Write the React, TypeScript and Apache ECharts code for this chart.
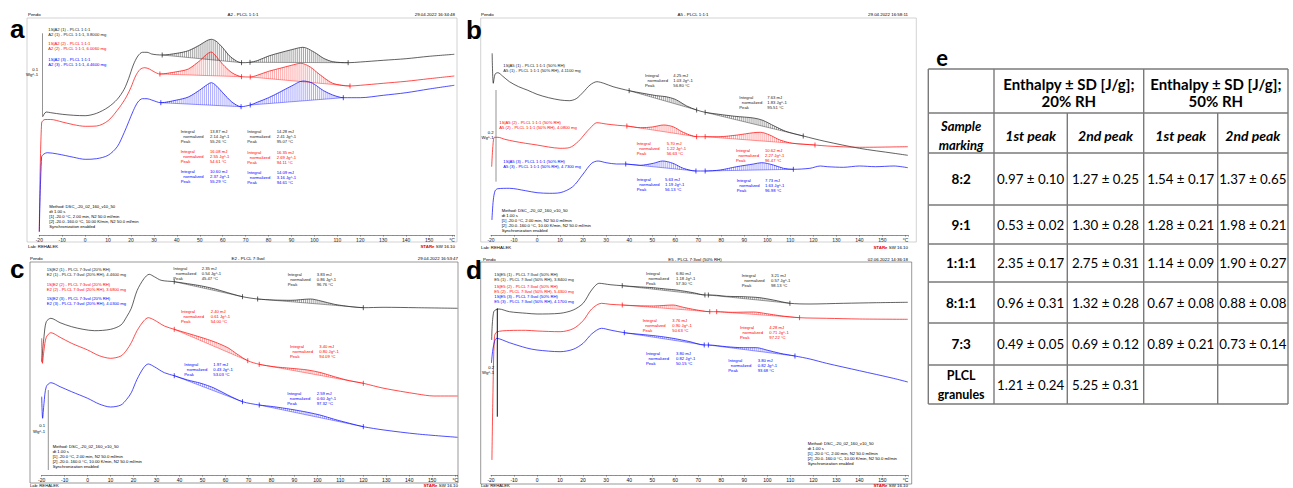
import React, { useEffect, useRef } from "react";
import * as echarts from "echarts";

type Pt = [number, number];

// ===== Panel a: A2 - PLCL 1:1:1  (x: temperature °C, y: heat flow, arbitrary units) =====
const aBlack: Pt[] = [[-18.5,118.3],[-17,123],[-15,122.3],[-10,120.7],[-5,119.7],[0,119.3],[5,121.7],[10,127.7],[14,135.7],[17,145.7],[19,156.7],[21,170],[23,179],[25,182.7],[27,182.7],[29,181],[31,180.3],[33.6,180],[40,181.7],[45,184.3],[50,190],[53,194.3],[55,195.7],[57,194],[60,187.3],[63,179],[66,174],[68.2,172.3],[71.9,172.7],[75,174.3],[80,179],[85,182.3],[90,185.3],[95,187.7],[100,182.7],[104,176.7],[108,173.3],[114.7,172.3],[120,173],[130,174.7],[140,176.3],[150,178.7],[161,180.7]];
const aRed: Pt[] = [[-20,3.3],[-19,112],[-17.5,115.5],[-15,115.5],[-10,113],[-5,110.3],[0,108.7],[5,109],[10,114.3],[15,127.7],[18,138.3],[20,147.7],[22,159],[24,165.7],[26,167.3],[28,166],[30,163.3],[32.6,161],[40,163.3],[45,166],[50,174.3],[53,180.7],[55,183],[57,179],[60,170.7],[64,162.3],[68.2,158.3],[72,158],[75,159.7],[80,163.7],[85,166.7],[90,169.7],[94,171.7],[98,168.3],[102,161],[108,151.7],[115.5,149],[120,149.7],[130,151.7],[140,153.7],[150,156.3],[161,159]];
const aBlue: Pt[] = [[-20,3.3],[-19,78],[-18,81],[-16.5,82.3],[-12,81],[-5,77.7],[0,75.7],[5,76.3],[10,79.7],[14,88.3],[17,102.3],[19,113.3],[21,124.3],[23,133],[25,136.3],[27,136.3],[29,135],[33,132.3],[40,135],[45,138],[50,145],[53,150],[55,152.3],[57,149.7],[60,142.3],[64,133],[68,128.3],[72,130],[75,132.7],[80,137.3],[85,143],[90,149],[95,154],[99,152],[104,144.3],[108,140],[112.6,137.3],[120,137.3],[130,139.7],[140,142.3],[150,146],[161,149.7]];
const aBlackPeaks: Pt[] = [[33.6,68.2],[71.9,114.7]];
const aRedPeaks: Pt[] = [[32.6,68.2],[72,115.5]];
const aBluePeaks: Pt[] = [[33,68],[72,112.6]];

// ===== Panel b: A5 - PLCL 1:1:1 (50% RH) =====
const bBlack: Pt[] = [[-19.5,181.7],[-19,151.7],[-18.2,161],[-17,162.3],[-15,159],[-12,153.3],[-8,148.3],[-4,144.7],[0,140.7],[5,137.3],[10,135],[14,134.3],[17,136.3],[20,142.7],[23,150],[26,153.3],[29,151.7],[33,148.3],[40,144.3],[46,141.7],[52,139.3],[56,138.3],[60,135.7],[65,129],[69.3,125],[73,122.7],[79,120.7],[86,118.7],[94,117],[98,114.7],[103,109],[108,103.7],[115.6,99],[125,93.7],[140,86.7],[155,81.7],[161,79.7]];
const bRed: Pt[] = [[-19.7,68.3],[-19.2,88.3],[-18.5,97.7],[-17,97.7],[-14,95.7],[-10,93.7],[-5,91.7],[0,90],[5,88],[10,86.7],[14,87.3],[18,93.7],[21,101.7],[23,106.7],[26,112.3],[30,111],[35,109.7],[39,109],[45,107.3],[50,108],[55,110],[59,108.3],[63.5,102.7],[69.3,98.3],[73,98.3],[79,98.3],[87,100],[94,102.3],[97,102.7],[101,100],[105.5,95],[111,91.7],[120.7,90],[126,89],[140,87.7],[161,88.3]];
const bBlue: Pt[] = [[-19.6,15],[-19,35],[-18.2,44.3],[-17,46.3],[-12,46.7],[-5,44.3],[0,42.3],[5.5,41.7],[10,42.3],[15.5,48.3],[20,61],[23.7,71.7],[26.5,74],[30,72.3],[34.5,71],[38.5,71],[44.7,69.7],[50.5,71.7],[54.5,74],[59,71.7],[63.5,66.7],[69,64],[73,64],[79.5,65],[86.7,68.3],[94,71],[97.5,72.3],[102.6,70],[107,66.7],[111.3,65.7],[118.5,66.7],[123,69],[126,68.3],[133,67.7],[140,69],[147,68.3],[155,69],[161,67.3]];
const bBlackPeaks: Pt[] = [[40,69.3],[73,115.6]];
const bRedPeaks: Pt[] = [[39,69.3],[73,120.7]];
const bBluePeaks: Pt[] = [[38.5,69],[73,111.3]];

// ===== Panel c: E2 - PLCL 7:3vol (20% RH) =====
const cBlack: Pt[] = [[-20,113.3],[-19,138.3],[-18,153.3],[-16,156.7],[-12,152.3],[-7,148.3],[-2,145.7],[3,144.3],[10,145.7],[14.5,150],[17,158.3],[19,166.7],[21.5,184.3],[24.5,196.3],[26.8,200.7],[29,198.3],[32,194.7],[37.7,193.3],[43.5,191.3],[49,189.3],[55,186.3],[61,182.3],[67.4,178.3],[74,176],[81,175],[88.5,174.7],[97,176],[101.6,174],[107.4,170.7],[114.6,168.3],[120,167.3],[129,167.7],[143,167.3],[161,166.7]];
const cRed: Pt[] = [[-20,136.7],[-19.7,111.7],[-19,125],[-18,137.7],[-16,142.3],[-12,137.7],[-7,131.7],[0,125],[5,119.3],[10,116.7],[14.5,119],[17,125],[19,132.3],[21.5,144.3],[24.5,154.3],[26.4,157.3],[29,155],[33.4,149],[37.7,145.7],[43.5,141.7],[49.3,137.7],[55,133.3],[61,127.3],[65,121],[69.7,114.3],[74.7,110.7],[81,108.3],[88.5,106.7],[95.8,105],[101.6,102.3],[107.4,98.3],[114,94.3],[120,91.7],[129,86.7],[143.5,81],[150.7,79],[161,79]];
const cBlue: Pt[] = [[-20,78.3],[-19.6,56.7],[-19,71.7],[-18,88.3],[-16,92.3],[-12,88.3],[-7,83.3],[0,76.7],[5,71],[10,68],[14.5,70],[17,75.7],[19,82.3],[21.5,95.7],[24.5,107.7],[26.4,111],[29,108.3],[33.4,102.3],[37.7,99.3],[43.5,95],[49.3,91.7],[55,87],[61,80],[67.4,73.3],[74.7,70],[81,68.3],[88.5,65.7],[95.8,62.7],[101.6,59.7],[107.4,55.7],[114,51.7],[120,48.3],[129,45],[143.5,41],[161,37.7]];
const cBlackPeaks: Pt[] = [[37.7,67.4],[74,120]];
const cRedPeaks: Pt[] = [[37.7,69.7],[74.7,120]];
const cBluePeaks: Pt[] = [[37.7,67.4],[74.7,120]];

// ===== Panel d: E5 - PLCL 7:3vol (50% RH) =====
const dBlack: Pt[] = [[-19.7,135],[-18.8,163.3],[-16.5,166],[-12,163.3],[-4.5,161.7],[0,161],[10,161.7],[15.7,165],[20,171.7],[23.7,185],[27,191.7],[31.7,190.3],[37,189.3],[43,188.3],[50.5,187.3],[56,186],[60.6,185],[67.8,182.3],[72.9,180],[74.4,180],[78,179.7],[82.3,178.7],[89.5,178.3],[96.8,177.3],[102.6,175],[109.8,171.7],[118.5,171],[133,171.7],[147.4,172.3],[161,172.7]];
const dRed: Pt[] = [[-19.6,15],[-19.2,75],[-18.5,138.3],[-17.5,143],[-12,144.5],[-5,144.7],[0,144],[10,143.3],[15.7,146.3],[20,154.3],[23.7,166],[28,171.7],[31.7,170.7],[37,170],[43,169.3],[50.5,169],[59,170],[63.5,167.7],[67.8,165.7],[75,163.3],[78,163.3],[85,162.7],[94,163],[99.7,161.3],[105.5,159.3],[114,157.3],[125.7,156.7],[140,156],[161,155.7]];
const dBlue: Pt[] = [[-19.8,112],[-19,128],[-17.5,136.7],[-12,132.3],[-4.5,127],[0,125],[10,123.3],[15.7,125.7],[20,131.7],[23.7,141],[28,146.7],[31.7,145],[37.9,142.3],[44.7,140.7],[52,139],[59,136.7],[66.4,133.3],[72.6,130],[74.4,130],[82.3,128.3],[89.5,127.3],[95.3,127.3],[99.7,125],[105.5,121.7],[112,119],[118.5,116],[125.7,111.7],[140,104.3],[154.7,96.7],[161,93]];
const dBlackPeaks: Pt[] = [[37,72.9],[74.4,109.8]];
const dRedPeaks: Pt[] = [[37,75],[78,114]];
const dBluePeaks: Pt[] = [[37.9,72.6],[74.4,112]];

// ===== Peak evaluation texts [integral, normalized, peak] per curve (black, red, blue) x (1st, 2nd) =====
const aNotes = [[["13.87 mJ","2.14 Jg^-1","55.26 °C"],["14.28 mJ","2.41 Jg^-1","95.07 °C"]],[["16.08 mJ","2.55 Jg^-1","54.61 °C"],["16.35 mJ","2.69 Jg^-1","94.11 °C"]],[["10.60 mJ","2.37 Jg^-1","55.29 °C"],["14.09 mJ","3.16 Jg^-1","94.61 °C"]]];
const bNotes = [[["4.25 mJ","1.03 Jg^-1","56.80 °C"],["7.63 mJ","1.83 Jg^-1","95.51 °C"]],[["5.70 mJ","1.22 Jg^-1","56.63 °C"],["10.62 mJ","2.27 Jg^-1","96.47 °C"]],[["5.63 mJ","1.19 Jg^-1","56.13 °C"],["7.73 mJ","1.63 Jg^-1","96.98 °C"]]];
const cNotes = [[["2.35 mJ","0.54 Jg^-1","45.47 °C"],["3.83 mJ","0.86 Jg^-1","96.76 °C"]],[["2.40 mJ","0.61 Jg^-1","54.00 °C"],["3.40 mJ","0.80 Jg^-1","94.09 °C"]],[["1.97 mJ","0.43 Jg^-1","53.03 °C"],["2.59 mJ","0.60 Jg^-1","97.32 °C"]]];
const dNotes = [[["6.80 mJ","1.18 Jg^-1","57.30 °C"],["3.21 mJ","0.57 Jg^-1","98.13 °C"]],[["3.76 mJ","0.90 Jg^-1","50.63 °C"],["4.28 mJ","0.71 Jg^-1","97.22 °C"]],[["3.80 mJ","0.82 Jg^-1","50.15 °C"],["3.80 mJ","0.82 Jg^-1","93.68 °C"]]];

const aLegend = [["1S|A2 (1) - PLCL 1:1:1","A2 (1) - PLCL 1:1:1, 3.8000 mg"],["1S|A2 (2) - PLCL 1:1:1","A2 (2) - PLCL 1:1:1, 6.0060 mg"],["1S|A2 (3) - PLCL 1:1:1","A2 (3) - PLCL 1:1:1, 4.4600 mg"]];
const bLegend = [["1S|A5 (1) - PLCL 1:1:1 (50% RH)","A5 (1) - PLCL 1:1:1 (50% RH), 4.1100 mg"],["1S|A5 (2) - PLCL 1:1:1 (50% RH)","A5 (2) - PLCL 1:1:1 (50% RH), 4.0800 mg"],["1S|A5 (3) - PLCL 1:1:1 (50% RH)","A5 (3) - PLCL 1:1:1 (50% RH), 4.7300 mg"]];
const cLegend = [["1S|E2 (1) - PLCL 7:3vol (20% RH)","E2 (1) - PLCL 7:3vol (20% RH), 4.4600 mg"],["1S|E2 (2) - PLCL 7:3vol (20% RH)","E2 (2) - PLCL 7:3vol (20% RH), 3.6800 mg"],["1S|E2 (3) - PLCL 7:3vol (20% RH)","E2 (3) - PLCL 7:3vol (20% RH), 4.0300 mg"]];
const dLegend = [["1S|E5 (1) - PLCL 7:3vol (50% RH)","E5 (1) - PLCL 7:3vol (50% RH), 3.8400 mg"],["1S|E5 (2) - PLCL 7:3vol (50% RH)","E5 (2) - PLCL 7:3vol (50% RH), 5.4300 mg"],["1S|E5 (3) - PLCL 7:3vol (50% RH)","E5 (3) - PLCL 7:3vol (50% RH), 4.1700 mg"]];
const methodLines = ["Method: DSC_-20_02_160_v10_50","dt 1.00 s","[1] -20.0 °C, 2.00 min, N2 50.0 ml/min","[2] -20.0..160.0 °C, 10.00 K/min, N2 50.0 ml/min","Synchronization enabled"];

// ===== Table e =====
const tableSamples = ["8:2","9:1","1:1:1","8:1:1","7:3","PLCL granules"];
const rh20Peak1Mean = [0.97,0.53,2.35,0.96,0.49,1.21];
const rh20Peak1Sd = [0.10,0.02,0.17,0.31,0.05,0.24];
const rh20Peak2Mean = [1.27,1.30,2.75,1.32,0.69,5.25];
const rh20Peak2Sd = [0.25,0.28,0.31,0.28,0.12,0.31];
const rh50Peak1Mean = [1.54,1.28,1.14,0.67,0.89,null];
const rh50Peak1Sd = [0.17,0.21,0.09,0.08,0.21,null];
const rh50Peak2Mean = [1.37,1.98,1.90,0.88,0.73,null];
const rh50Peak2Sd = [0.65,0.21,0.27,0.08,0.14,null];

const FONT = "Liberation Sans";
const TFONT = "Lato";
const COLORS = ["#1c1c1c", "#ff0000", "#0000ff"];
const HATCH = ["rgba(0,0,0,0.6)", "rgba(255,0,0,0.55)", "rgba(0,0,255,0.55)"];

function interp(c: Pt[], x: number): number {
  if (x <= c[0][0]) return c[0][1];
  for (let i = 0; i < c.length - 1; i++) {
    const [x0, y0] = c[i];
    const [x1, y1] = c[i + 1];
    if (x >= x0 && x <= x1) return y0 + ((y1 - y0) * (x - x0)) / (x1 - x0);
  }
  return c[c.length - 1][1];
}

export default function App() {
  const ref = useRef<HTMLDivElement>(null);
  useEffect(() => {
    document.body.style.margin = "0";
    const chart = echarts.init(ref.current!, null, { renderer: "svg" });

    const panels = [
      { grid: { left: 39.3, top: 18, width: 415, height: 217 }, ymax: 217, curves: [[aBlack, aBlackPeaks], [aRed, aRedPeaks], [aBlue, aBluePeaks]] },
      { grid: { left: 491, top: 18, width: 416.8, height: 217 }, ymax: 217, curves: [[bBlack, bBlackPeaks], [bRed, bRedPeaks], [bBlue, bBluePeaks]] },
      { grid: { left: 41.7, top: 258, width: 415.8, height: 217 }, ymax: 217, curves: [[cBlack, cBlackPeaks], [cRed, cRedPeaks], [cBlue, cBluePeaks]] },
      { grid: { left: 491, top: 260, width: 416.8, height: 215 }, ymax: 215, curves: [[dBlack, dBlackPeaks], [dRed, dRedPeaks], [dBlue, dBluePeaks]] },
    ] as { grid: any; ymax: number; curves: [Pt[], Pt[]][] }[];

    const grids: any[] = [];
    const xAxes: any[] = [];
    const yAxes: any[] = [];
    const series: any[] = [];

    panels.forEach((p, i) => {
      grids.push({ ...p.grid, containLabel: false });
      xAxes.push({
        type: "value", gridIndex: i, min: -20, max: 161, interval: 10,
        axisLine: { lineStyle: { color: "#444", width: 0.6 } },
        axisTick: { length: 1.6, lineStyle: { color: "#444", width: 0.5 } },
        minorTick: { show: true, splitNumber: 5, length: 1, lineStyle: { color: "#777", width: 0.4 } },
        splitLine: { show: false },
        axisLabel: {
          fontSize: 5, color: "#111", margin: 2, fontFamily: FONT,
          formatter: (v: number) => (Math.abs(v % 10) > 1e-6 ? "" : v === 160 ? "°C" : String(v)),
        },
      });
      yAxes.push({ type: "value", gridIndex: i, min: 0, max: p.ymax, show: false, axisLabel: { show: false }, axisLine: { show: false }, axisTick: { show: false }, splitLine: { show: false } });

      const hatch: number[][] = [];
      const base: number[][] = [];
      const ticks: number[][] = [];
      p.curves.forEach(([data, peaks], k) => {
        series.push({
          type: "line", xAxisIndex: i, yAxisIndex: i, data, showSymbol: false, symbol: "none",
          smooth: 0.3, lineStyle: { color: COLORS[k], width: 0.7 }, silent: true, z: 3, label: { show: false },
        });
        peaks.forEach(([s, e]) => {
          const ys = interp(data, s);
          const ye = interp(data, e);
          for (let x = s + 0.4; x < e; x += 0.85) {
            hatch.push([x, interp(data, x), ys + ((ye - ys) * (x - s)) / (e - s), k]);
          }
          base.push([s, ys, e, ye, k]);
          ticks.push([s, ys, k]);
          ticks.push([e, ye, k]);
        });
      });
      series.push({
        type: "custom", xAxisIndex: i, yAxisIndex: i, data: hatch, silent: true, z: 2, label: { show: false },
        encode: { x: 0, y: 1 },
        renderItem: (_params: any, api: any) => {
          const a = api.coord([api.value(0), api.value(1)]);
          const b = api.coord([api.value(0), api.value(2)]);
          return { type: "line", shape: { x1: a[0], y1: a[1], x2: b[0], y2: b[1] }, style: { stroke: HATCH[api.value(3)], lineWidth: 0.6 } };
        },
      });
      series.push({
        type: "custom", xAxisIndex: i, yAxisIndex: i, data: base, silent: true, z: 2, label: { show: false },
        encode: { x: [0, 2], y: [1, 3] },
        renderItem: (_params: any, api: any) => {
          const a = api.coord([api.value(0), api.value(1)]);
          const b = api.coord([api.value(2), api.value(3)]);
          return { type: "line", shape: { x1: a[0], y1: a[1], x2: b[0], y2: b[1] }, style: { stroke: COLORS[api.value(4)], lineWidth: 0.5, opacity: 0.8 } };
        },
      });
      series.push({
        type: "custom", xAxisIndex: i, yAxisIndex: i, data: ticks, silent: true, z: 4, label: { show: false },
        encode: { x: 0, y: 1 },
        renderItem: (_params: any, api: any) => {
          const a = api.coord([api.value(0), api.value(1)]);
          return { type: "line", shape: { x1: a[0], y1: a[1] - 2.5, x2: a[0], y2: a[1] + 2.5 }, style: { stroke: COLORS[api.value(2)], lineWidth: 0.7 } };
        },
      });
    });

    const g: any[] = [];
    const txt = (x: number, y: number, text: string, o: any = {}) =>
      g.push({
        type: "text", x, y, silent: true, z: 20,
        style: {
          text, fill: o.fill || "#000", fontSize: o.size || 4.2, fontFamily: o.family || FONT,
          fontWeight: o.weight || "normal", fontStyle: o.style || "normal",
          align: o.align || "left", verticalAlign: "middle",
        },
      });
    const line = (x1: number, y1: number, x2: number, y2: number, stroke: string, w: number) =>
      g.push({ type: "line", silent: true, z: 15, shape: { x1, y1, x2, y2 }, style: { stroke, lineWidth: w } });
    const frame = (x: number, y: number, w: number, h: number, stroke: string) =>
      g.push({ type: "rect", silent: true, z: 1, shape: { x, y, width: w, height: h }, style: { fill: "none", stroke, lineWidth: 0.6 } });
    const star = (x: number, y: number) => {
      txt(x, y, "SW 16.10", { size: 4.4, align: "right" });
      txt(x - 20.5, y, "STARe", { size: 4.4, align: "right", fill: "#e00000", weight: "bold" });
    };
    const notes = (x: number, xv: number, y: number, k: number, v: string[]) => {
      const fill = COLORS[k];
      txt(x, y, "Integral", { fill }); txt(xv, y, v[0], { fill });
      txt(x + 2.5, y + 5, "normalized", { fill }); txt(xv, y + 5, v[1], { fill });
      txt(x, y + 10, "Peak", { fill }); txt(xv, y + 10, v[2], { fill });
    };
    const legend = (xs: number[], ys: number[], L: string[][]) =>
      L.forEach((l, k) => {
        txt(xs[k], ys[k], l[0], { fill: COLORS[k] });
        txt(xs[k], ys[k] + 5, l[1], { fill: COLORS[k] });
      });
    const method = (x: number, y: number) => methodLines.forEach((m, j) => txt(x, y + j * 5, m));

    // ---- panel a
    frame(27, 18, 430, 224, "#b5b5b5");
    txt(10, 29, "a", { size: 26, weight: "bold" });
    txt(28, 14.5, "Pendo", { size: 4.4 });
    txt(243, 14.5, "A2 - PLCL 1:1:1", { size: 4.4, align: "center" });
    txt(455, 14.5, "29.04.2022 16:34:48", { size: 4.4, align: "right" });
    txt(28, 246.5, "Lab: REHALEK", { size: 4.4 });
    star(455, 246.5);
    line(42.5, 33.3, 42.5, 116.7, "#666", 0.7);
    txt(38, 69.5, "0.1", { align: "right" });
    txt(38, 74.5, "Wg^-1", { align: "right" });
    legend([48.3, 48.3, 48.3], [29, 43.5, 59], aLegend);
    notes(180.7, 210, 131.7, 0, aNotes[0][0]); notes(247.3, 276.7, 131.7, 0, aNotes[0][1]);
    notes(180.7, 210, 151.7, 1, aNotes[1][0]); notes(247.3, 276.7, 152.3, 1, aNotes[1][1]);
    notes(180.7, 210, 171.7, 2, aNotes[2][0]); notes(247.3, 276.7, 172.7, 2, aNotes[2][1]);
    method(49.3, 206.5);

    // ---- panel b
    frame(480.7, 18, 435.6, 224, "#b5b5b5");
    txt(466, 30, "b", { size: 26, weight: "bold" });
    txt(481, 14.5, "Pendo", { size: 4.4 });
    txt(693, 14.5, "A5 - PLCL 1:1:1", { size: 4.4, align: "center" });
    txt(908, 14.5, "29.04.2022 16:58:11", { size: 4.4, align: "right" });
    txt(481, 247, "Lab: REHALEK", { size: 4.4 });
    star(908, 247);
    line(496, 90, 496, 181.7, "#666", 0.7);
    txt(493.5, 132.7, "0.2", { align: "right" });
    txt(493.5, 137.2, "Wg^-1", { align: "right" });
    legend([503.3, 499.3, 503.3], [65.7, 122.3, 161.7], bLegend);
    notes(645, 673.3, 75, 0, bNotes[0][0]); notes(739.3, 767.3, 97.7, 0, bNotes[0][1]);
    notes(636.7, 666.7, 143.3, 1, bNotes[1][0]); notes(736, 765, 150, 1, bNotes[1][1]);
    notes(636.7, 665, 179.3, 2, bNotes[2][0]); notes(736.7, 765, 180.7, 2, bNotes[2][1]);
    method(501.7, 210.7);

    // ---- panel c
    frame(30, 262, 428, 221, "#555");
    txt(10, 269, "c", { size: 26, weight: "bold" });
    txt(30, 258, "Pendo", { size: 4.4 });
    txt(248, 258, "E2 - PLCL 7:3vol", { size: 4.4, align: "center" });
    txt(458, 258, "29.04.2022 16:53:47", { size: 4.4, align: "right" });
    txt(30, 485.6, "Lab: REHALEK", { size: 4.2 });
    star(458, 485.6);
    line(48.3, 390, 48.3, 470, "#666", 0.7);
    txt(45, 425.7, "0.1", { align: "right" });
    txt(45, 431.2, "Wg^-1", { align: "right" });
    legend([46.7, 46.7, 46.7], [269.3, 284, 298.3], cLegend);
    notes(173.3, 201.7, 268.3, 0, cNotes[0][0]); notes(287.7, 316.7, 274, 0, cNotes[0][1]);
    notes(181, 210.7, 311.7, 1, cNotes[1][0]); notes(290, 319.3, 346.7, 1, cNotes[1][1]);
    notes(184.3, 213.3, 364.3, 2, cNotes[2][0]); notes(287.3, 316.7, 393.3, 2, cNotes[2][1]);
    method(52.7, 446.7);

    // ---- panel d
    frame(480.7, 262, 431, 222, "#555");
    txt(466, 270, "d", { size: 26, weight: "bold" });
    txt(483, 259, "Pendo", { size: 4.4 });
    txt(695, 259, "E5 - PLCL 7:3vol (50% RH)", { size: 4.4, align: "center" });
    txt(908, 259, "02.06.2022 14:36:18", { size: 4.4, align: "right" });
    txt(481, 485.6, "Lab: REHALEK", { size: 4.2 });
    star(908, 485.6);
    line(497.3, 308.3, 497.3, 416.7, "#111", 1);
    txt(494, 367.3, "0.2", { align: "right" });
    txt(494, 372.7, "Wg^-1", { align: "right" });
    legend([494.3, 494.3, 494.3], [274.3, 286, 296.7], dLegend);
    notes(646, 676, 273.3, 0, dNotes[0][0]); notes(741.7, 771, 275, 0, dNotes[0][1]);
    notes(642.7, 672.3, 320, 1, dNotes[1][0]); notes(740, 769.3, 327.3, 1, dNotes[1][1]);
    notes(646, 676, 353.3, 2, dNotes[2][0]); notes(728.3, 757.7, 360.7, 2, dNotes[2][1]);
    method(807.7, 443.3);

    // ---- table e
    const cols = [928.3, 994, 1067.3, 1143.7, 1217.7, 1288];
    const rows = [69, 113, 153, 205, 244, 282, 323, 365, 404];
    const TS = "#7a7a7a";
    rows.forEach((y) => line(cols[0], y, cols[5], y, TS, 1.4));
    [0, 1, 3, 5].forEach((c) => line(cols[c], rows[0], cols[c], rows[8], TS, 1.4));
    [2, 4].forEach((c) => line(cols[c], rows[1], cols[c], rows[8], TS, 1.4));
    txt(942, 57, "e", { size: 22, weight: "bold", family: TFONT, align: "center" });
    const cc = (a: number, b: number) => (cols[a] + cols[b]) / 2;
    txt(cc(1, 3), 84, "Enthalpy ± SD [J/g];", { size: 15, weight: "bold", family: TFONT, align: "center" });
    txt(cc(1, 3), 101, "20% RH", { size: 15, weight: "bold", family: TFONT, align: "center" });
    txt(cc(3, 5), 84, "Enthalpy ± SD [J/g];", { size: 15, weight: "bold", family: TFONT, align: "center" });
    txt(cc(3, 5), 101, "50% RH", { size: 15, weight: "bold", family: TFONT, align: "center" });
    txt(cc(0, 1), 125.5, "Sample", { size: 13, weight: "bold", style: "italic", family: TFONT, align: "center" });
    txt(cc(0, 1), 144.5, "marking", { size: 13, weight: "bold", style: "italic", family: TFONT, align: "center" });
    const ph = ["1st peak", "2nd peak", "1st peak", "2nd peak"];
    ph.forEach((t, j) => txt(cc(j + 1, j + 2), 135.5, t, { size: 14, weight: "bold", style: "italic", family: TFONT, align: "center" }));
    const fmt = (m: number | null, s: number | null) => (m == null || s == null ? "" : `${m.toFixed(2)} ± ${s.toFixed(2)}`);
    tableSamples.forEach((name, r) => {
      const yc = (rows[r + 2] + rows[r + 3]) / 2;
      if (name.includes(" ")) {
        const parts = name.split(" ");
        txt(cc(0, 1), yc - 9, parts[0], { size: 12.5, weight: "bold", family: TFONT, align: "center" });
        txt(cc(0, 1), yc + 10, parts[1], { size: 12.5, weight: "bold", family: TFONT, align: "center" });
      } else {
        txt(cc(0, 1), yc, name, { size: 13.5, weight: "bold", family: TFONT, align: "center" });
      }
      const vals = [
        fmt(rh20Peak1Mean[r], rh20Peak1Sd[r]), fmt(rh20Peak2Mean[r], rh20Peak2Sd[r]),
        fmt(rh50Peak1Mean[r], rh50Peak1Sd[r]), fmt(rh50Peak2Mean[r], rh50Peak2Sd[r]),
      ];
      vals.forEach((v, j) => {
        if (v) txt(cc(j + 1, j + 2), yc, v, { size: 13.3, family: TFONT, align: "center" });
      });
    });

    chart.setOption({
      animation: false,
      backgroundColor: "#fff",
      tooltip: { show: false },
      grid: grids,
      xAxis: xAxes,
      yAxis: yAxes,
      series,
      graphic: { elements: g },
    });
    return () => chart.dispose();
  }, []);
  return <div ref={ref} style={{ position: "absolute", left: 0, top: 0, width: 1293, height: 488, background: "#fff" }} />;
}
